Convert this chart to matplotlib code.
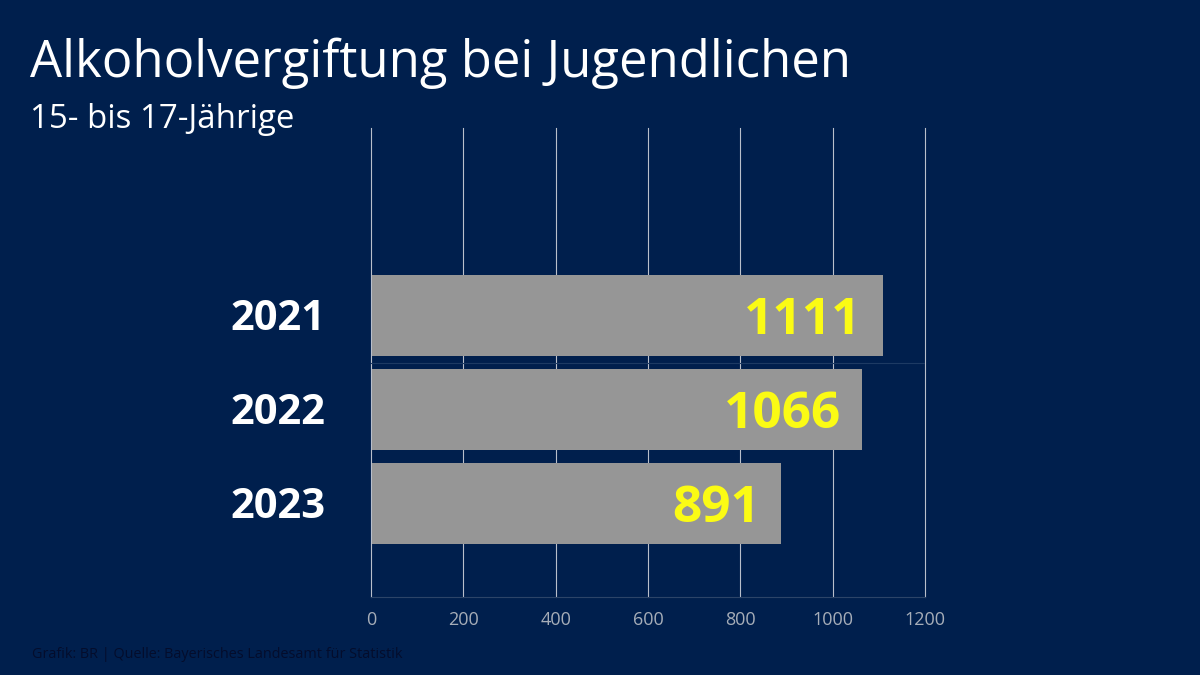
import matplotlib
matplotlib.use("Agg")
import matplotlib.pyplot as plt

years = ["2021", "2022", "2023"]
values = [1111, 1066, 891]
ticks = [0, 200, 400, 600, 800, 1000, 1200]
title = "Alkoholvergiftung bei Jugendlichen"
subtitle = "15- bis 17-Jährige"
source = "Grafik: BR | Quelle: Bayerisches Landesamt für Statistik"

BG = "#001f4d"
INSET = 3  # small gap the bars keep from the axis line, in data units
plt.rcParams["font.family"] = ["Open Sans", "DejaVu Sans"]
fig = plt.figure(figsize=(12, 6.75), dpi=100, facecolor=BG)
ax = fig.add_axes([371/1200, 1-597/675, (925-371)/1200, (597-128)/675], facecolor=BG)
ax.set_xlim(0, 1200)
ax.set_ylim(3.0, -2.0)
ax.set_axisbelow(True)
ax.grid(axis="x", color="#b9bfcb", lw=0.8)
ax.set_xticks(ticks)
for line in ax.get_xgridlines():
    line.set_clip_on(False)
ax.tick_params(axis="x", length=0, colors="#a6adb8", labelsize=13, pad=10)
ax.set_yticks([])
for s in ax.spines.values():
    s.set_visible(False)
ax.spines["bottom"].set_visible(True)
ax.spines["bottom"].set_color("#2c4468")
ax.spines["bottom"].set_linewidth(0.8)
ax.axhline(0.5, color="#1d3a63", lw=0.8, zorder=1)

ypos = list(range(len(years)))
ax.barh(ypos, [v - 2 * INSET for v in values], height=0.865, left=INSET, color="#969696", zorder=2)
for y, v, yr in zip(ypos, values, years):
    ax.annotate(str(v), (v, y), xytext=(-16, 0.5), textcoords="offset points", ha="right", va="center_baseline",
                color="#fbfb14", fontsize=37, fontweight="bold", zorder=3)
    ax.annotate(yr, (0, y), xytext=(-101.5, 0.5), textcoords="offset points", ha="left", va="center_baseline",
                color="white", fontsize=30, fontweight="bold", zorder=3)

fig.text(30/1200, 1-63/675, title, color="white", fontsize=36.6, va="center", ha="left")
fig.text(30/1200, 1-119/675, subtitle, color="white", fontsize=23.8, va="center", ha="left")
fig.text(32/1200, 1-655/675, source, color="#040d2c", fontsize=10.4, va="center", ha="left")
fig.savefig("out.png", dpi=100, facecolor=BG)
